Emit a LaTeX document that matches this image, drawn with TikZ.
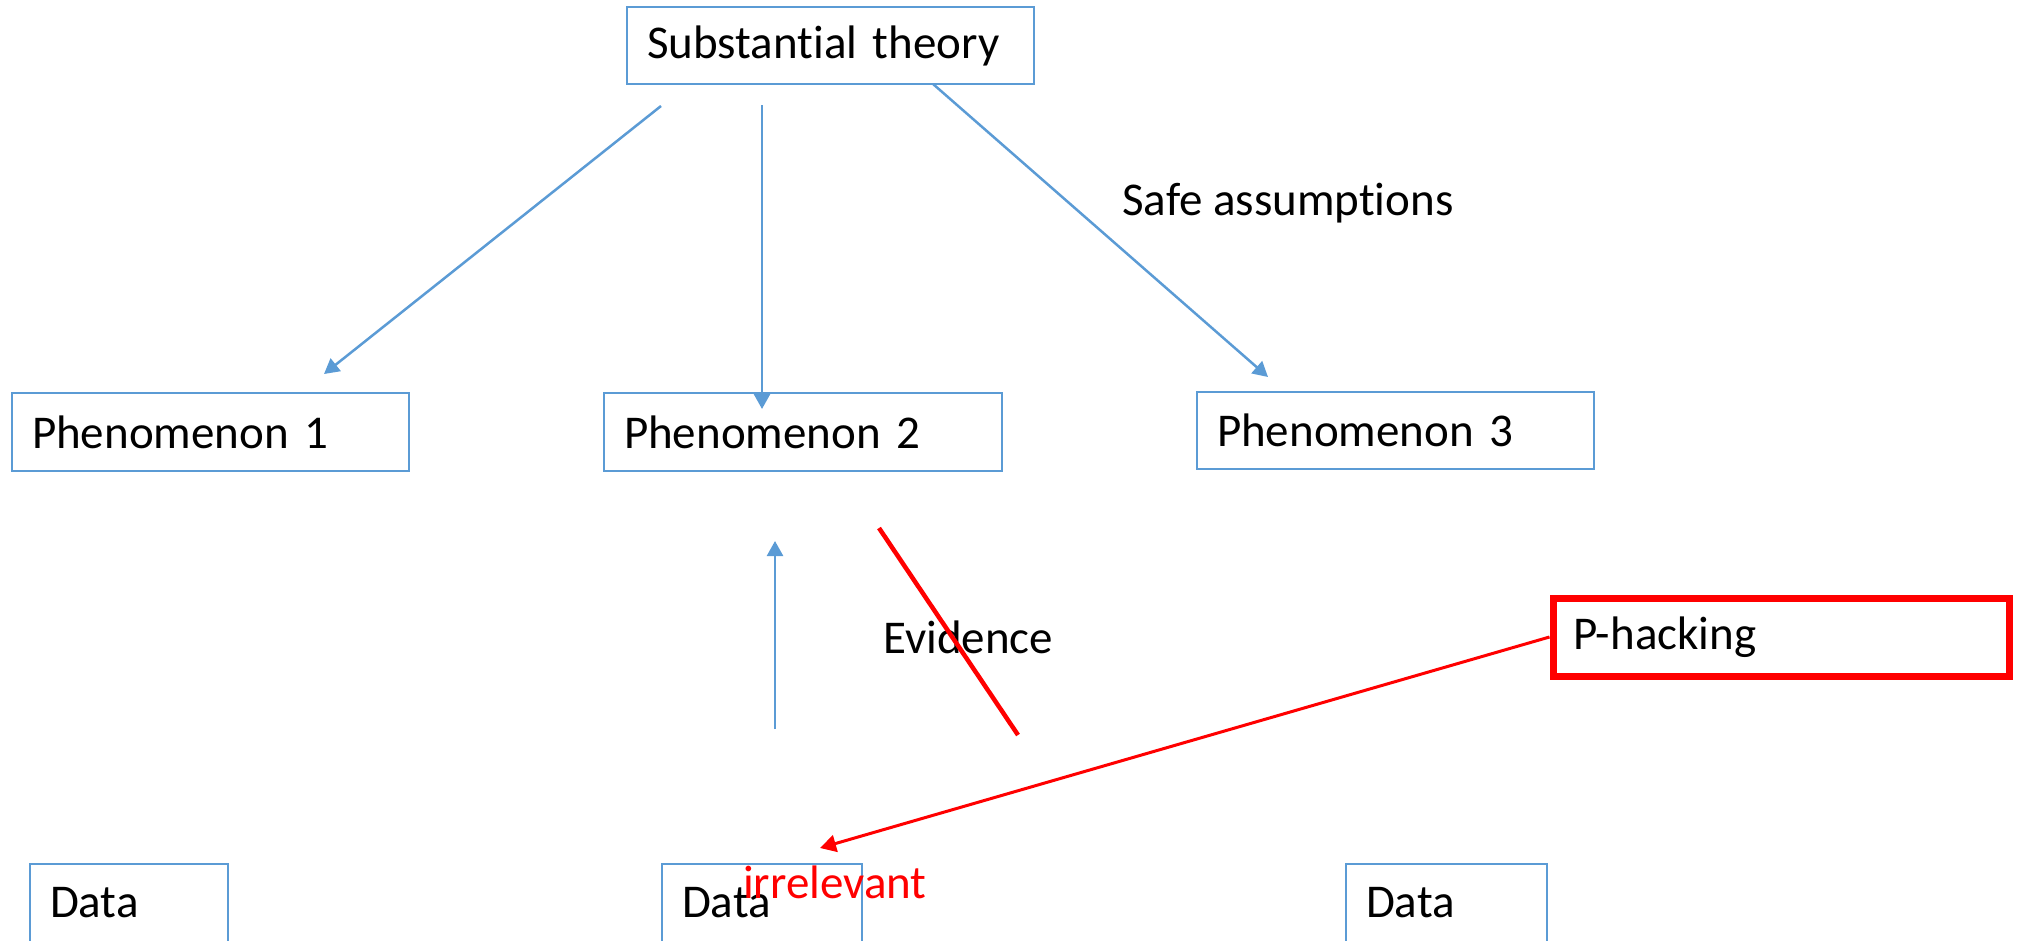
\documentclass[tikz,border=0pt]{standalone}
\usepackage{fontspec}
\setmainfont{Carlito}[Ligatures=NoCommon]
\usetikzlibrary{arrows.meta}
\definecolor{accblue}{RGB}{91,155,213}
\definecolor{pred}{RGB}{255,0,0}
\tikzset{
  txt/.style={font=\fontsize{47}{56}\selectfont, inner sep=0pt},
  box/.style={draw=accblue, line width=2pt, txt, inner xsep=20pt, align=left, anchor=center},
  bluearrow/.style={draw=accblue, line width=2.5pt, -{Triangle[width=16pt,length=15pt]}},
  redarrow/.style={draw=pred, line width=3pt, -{Triangle[width=17pt,length=16pt]}},
}
\begin{document}
\begin{tikzpicture}[x=1pt,y=-1pt]
\useasboundingbox (0,0) rectangle (2029,940);
% boxes
\node[box, text width=367pt, minimum height=77pt] (theory) at (830.5,45.5) {Substantial theory};
\node[box, text width=357pt, minimum height=78pt] (ph1) at (210.5,432) {Phenomenon 1};
\node[box, text width=358pt, minimum height=78pt] (ph2) at (803,432) {Phenomenon 2};
\node[box, text width=357pt, minimum height=77pt] (ph3) at (1395.5,430.5) {Phenomenon 3};
\node[box, draw=pred, line width=7pt, text width=416pt, minimum height=78pt] (phack) at (1781,637) {P-hacking};
\node[box, text width=158pt, minimum height=78pt] (d1) at (129,903) {Data};
\node[box, text width=160pt, minimum height=78pt] (d2) at (762,903) {Data};
\node[box, text width=161pt, minimum height=78pt] (d3) at (1446.5,903) {Data};
% labels
\node[txt, anchor=west] (safe) at (1122,203) {Safe assumptions};
\node[txt, anchor=west] (evid) at (883,637) {Evidence};
\node[txt, anchor=west, text=pred] (irr) at (743,882) {irrelevant};
% connector ends
\coordinate (a1s) at (661,106);
\coordinate (a1e) at (324,374);
\coordinate (a2s) at (762,105);
\coordinate (a2e) at (762,409);
\coordinate (a3s) at (933,84);
\coordinate (a3e) at (1268,377);
\coordinate (evs) at (775,729);
\coordinate (eve) at (775,541);
\coordinate (crs) at (879,528);
\coordinate (cre) at (1018,735);
\coordinate (rae) at (820,848);
% connectors
\draw[bluearrow] (a1s) -- (a1e);
\draw[bluearrow] (a2s) -- (a2e);
\draw[bluearrow] (a3s) -- (a3e);
\draw[bluearrow] (evs) -- (eve);
\draw[draw=pred, line width=4.5pt] (crs) -- (cre);
\draw[redarrow] (phack.west) -- (rae);
\end{tikzpicture}
\end{document}
